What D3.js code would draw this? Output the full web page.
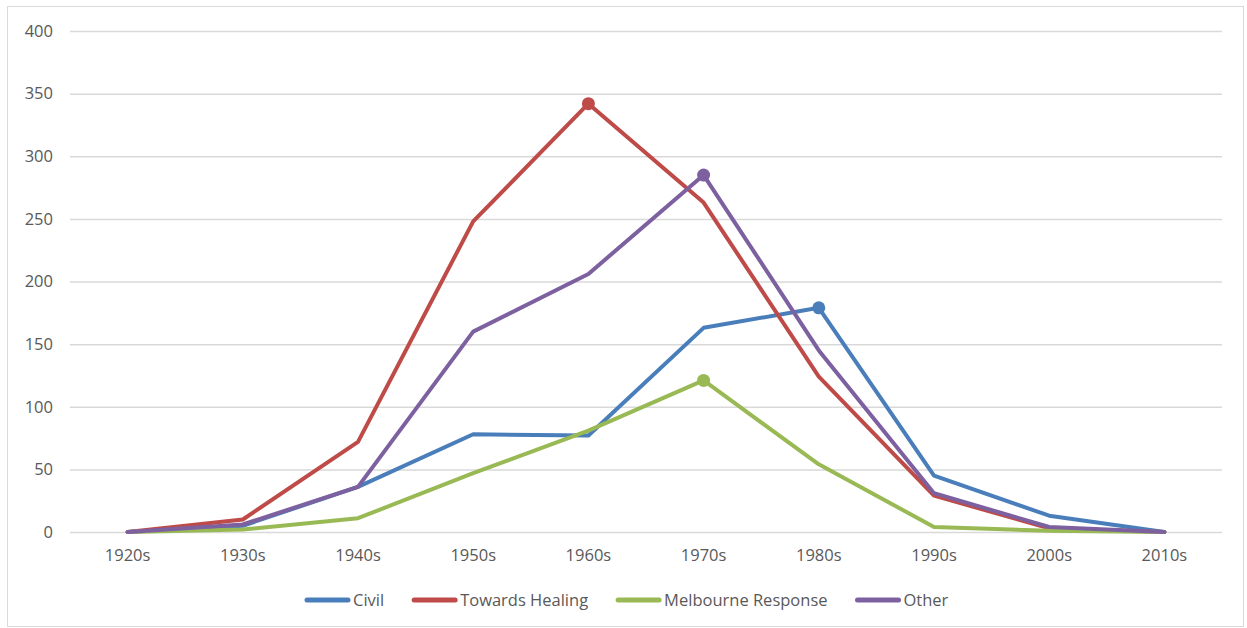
<!DOCTYPE html>
<html><head><meta charset="utf-8">
<script src="https://cdn.jsdelivr.net/npm/d3@7"></script>
<style>
body{margin:0;background:#fff;}
svg text{font-family:"Open Sans","Liberation Sans",sans-serif;fill:#595959;}
</style></head>
<body>
<svg id="chart" width="1247" height="628"></svg>
<script>
const categories = ["1920s","1930s","1940s","1950s","1960s","1970s","1980s","1990s","2000s","2010s"];
const seriesNames = ["Civil","Towards Healing","Melbourne Response","Other"];
const civil = [0,5,36,78,77,163,179,45,13,0];
const towardsHealing = [0,10,72,248,342,263,124,29,3,0];
const melbourneResponse = [0,2,11,47,81,121,54,4,1,0];
const other = [0,6,36,160,206,285,145,31,4,0];
const yTicks = [0,50,100,150,200,250,300,350,400];
const colors = ["#4a7ebb","#be4b48","#98b954","#7d60a0"];

(function(){
const seriesValues = [civil, towardsHealing, melbourneResponse, other];
const svg = d3.select("#chart");
svg.append("rect").attr("x",7.5).attr("y",6.5).attr("width",1236).attr("height",620)
  .attr("fill","#fff").attr("stroke","#d9d9d9");

const pLeft=70, pRight=1222, pTop=31, pBottom=532;
const x = d3.scaleBand().domain(categories).range([pLeft,pRight]);
const y = d3.scaleLinear().domain([0,400]).range([pBottom,pTop]);
const fs = "16.5px";

const yAxis = svg.append("g").attr("transform",`translate(${pLeft},0)`)
  .call(d3.axisLeft(y).tickValues(yTicks).tickSize(-(pRight-pLeft)).tickPadding(17));
yAxis.select(".domain").remove();
yAxis.selectAll("line").attr("stroke","#d9d9d9").attr("stroke-width",1.5);
yAxis.selectAll("text").style("font-size",fs).attr("fill","#595959");

const xAxis = svg.append("g").attr("transform",`translate(0,${pBottom})`)
  .call(d3.axisBottom(x).tickSize(0).tickPadding(17));
xAxis.select(".domain").remove();
xAxis.selectAll("text").style("font-size",fs).attr("fill","#595959");

const line = d3.line().x((d,i)=>x(categories[i])+x.bandwidth()/2).y(d=>y(d));
seriesValues.forEach((vals,si)=>{
  svg.append("path").datum(vals).attr("d",line).attr("fill","none")
    .attr("stroke",colors[si]).attr("stroke-width",4).attr("stroke-linejoin","round").attr("stroke-linecap","round");
});
seriesValues.forEach((vals,si)=>{
  const m = d3.maxIndex(vals);
  svg.append("circle").attr("cx",x(categories[m])+x.bandwidth()/2).attr("cy",y(vals[m]))
    .attr("r",6.5).attr("fill",colors[si]);
});

const lg = svg.append("g");
let cx = 305;
const ly = 600;
seriesNames.forEach((name,si)=>{
  lg.append("line").attr("x1",cx+2).attr("x2",cx+43).attr("y1",ly).attr("y2",ly)
    .attr("stroke",colors[si]).attr("stroke-width",5).attr("stroke-linecap","round");
  const t = lg.append("text").attr("x",cx+48).attr("y",ly+6).style("font-size",fs).text(name);
  cx += 48 + t.node().getComputedTextLength() + 28;
});
})();
</script>
</body></html>
